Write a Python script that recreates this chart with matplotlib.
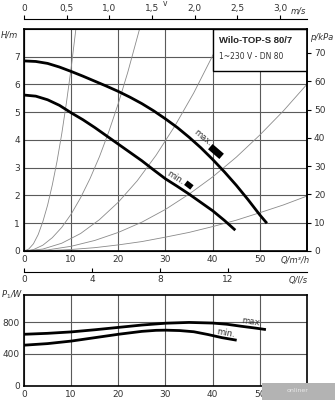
import numpy as np
import matplotlib
matplotlib.use('Agg')
import matplotlib.pyplot as plt
import matplotlib.patches as mpatches

plt.rcParams['font.family'] = ['DejaVu Sans']

# pump curves, H/m over Q/m3/h
q_max = [0, 2.5, 5, 7.5, 10, 12.5, 15, 17.5, 20, 22.5, 25, 27.5, 30, 32.5,
         35, 37.5, 40, 42.5, 45, 47.5, 50, 51.5]
h_max = [6.85, 6.83, 6.76, 6.63, 6.47, 6.3, 6.12, 5.94, 5.75, 5.54, 5.31, 5.05,
         4.76, 4.45, 4.1, 3.72, 3.3, 2.85, 2.37, 1.85, 1.3, 1.0]
q_min = [0, 2.5, 5, 7.5, 10, 12.5, 15, 17.5, 20, 22.5, 25, 27.5, 30, 32.5,
         35, 37.5, 40, 42.5, 44.8]
h_min = [5.62, 5.58, 5.45, 5.25, 4.98, 4.73, 4.45, 4.15, 3.85, 3.55, 3.25, 2.92,
         2.6, 2.33, 2.05, 1.75, 1.45, 1.1, 0.75]

# system curves (thin grey)
sys_q = [
    [0, 1, 2, 3, 4, 5, 6, 7, 8, 9, 10, 11],
    [0, 2, 4, 6, 8, 10, 12, 14, 16, 18, 20, 22, 24.5],
    [0, 4, 8, 12, 16, 20, 24, 28, 32, 36, 40, 42.6],
    [0, 5, 10, 15, 20, 25, 30, 35, 40, 45, 50, 55, 60],
    [0, 5, 10, 15, 20, 25, 30, 35, 40, 45, 50, 55, 60],
]
sys_h = [
    [0, 0.07, 0.26, 0.59, 1.06, 1.65, 2.38, 3.23, 4.22, 5.35, 6.6, 8.0],
    [0, 0.05, 0.21, 0.48, 0.85, 1.33, 1.92, 2.61, 3.4, 4.31, 5.32, 6.44, 8.0],
    [0, 0.07, 0.28, 0.63, 1.13, 1.76, 2.53, 3.45, 4.51, 5.7, 7.04, 7.98],
    [0, 0.04, 0.17, 0.38, 0.67, 1.04, 1.5, 2.05, 2.67, 3.38, 4.18, 5.05, 6.01],
    [0, 0.014, 0.055, 0.12, 0.22, 0.34, 0.5, 0.67, 0.88, 1.11, 1.38, 1.66, 1.98],
]

# power input P1/W
q_pmax = [0, 5, 10, 15, 20, 25, 30, 35, 40, 43, 46, 49, 51]
p_max = [648, 660, 678, 705, 735, 765, 788, 798, 790, 775, 750, 727, 710]
q_pmin = [0, 5, 10, 15, 20, 25, 28, 30, 33, 36, 39, 42, 44.8]
p_min = [510, 530, 562, 605, 648, 685, 698, 700, 695, 680, 645, 605, 576]

q_ticks = [0, 10, 20, 30, 40, 50]
h_ticks = [0, 1, 2, 3, 4, 5, 6, 7]
p_ticks = [0, 10, 20, 30, 40, 50, 60, 70]
v_ticks = [0, 0.5, 1.0, 1.5, 2.0, 2.5, 3.0]
v_labels = ['0', '0,5', '1,0', '1,5', '2,0', '2,5', '3,0']
ls_ticks = [0, 4, 8, 12]
w_ticks = [0, 400, 800]

W, H = 335, 400
TXT = '#333333'
GRID = '#5a5a5a'
FS = 6.5


def px(x, y):
    return x / W, 1 - y / H


fig = plt.figure(figsize=(3.35, 4.0), dpi=100)

# ---- main H(Q) chart ----
ax = fig.add_axes([24 / W, 1 - 251 / H, 283 / W, 222 / H])
ax.set_xlim(0, 60)
ax.set_ylim(0, 8)
ax.set_xticks(q_ticks)
ax.set_yticks(h_ticks)
ax.grid(True, color=GRID, lw=0.8)
ax.tick_params(length=0, labelsize=FS, labelcolor=TXT, pad=3)
for s in ax.spines.values():
    s.set_linewidth(1.2)

for qs, hs in zip(sys_q, sys_h):
    ax.plot(qs, hs, color='#8a8a8a', lw=0.6, zorder=2)
ax.plot(q_max, h_max, color='black', lw=2.0, zorder=4, solid_capstyle='butt')
ax.plot(q_min, h_min, color='black', lw=2.0, zorder=4, solid_capstyle='butt')

ax.text(37.9, 4.07, 'max.', rotation=-40, fontsize=6, color=TXT,
        ha='center', va='center', zorder=5)
ax.plot([39.5, 41.9], [3.76, 3.41], color='black', lw=5, solid_capstyle='butt', zorder=5)
ax.text(32.0, 2.65, 'min.', rotation=-32, fontsize=6, color=TXT,
        ha='center', va='center', zorder=5)
ax.plot([34.3, 35.6], [2.46, 2.29], color='black', lw=4, solid_capstyle='butt', zorder=5)

# type box
ax.add_patch(mpatches.Rectangle((40, 6.49), 20, 1.51, facecolor='white',
                                edgecolor='black', lw=1.0, zorder=6))
ax.text(41.3, 7.58, 'Wilo-TOP-S 80/7', fontsize=6.8, fontweight='bold',
        family=['Liberation Sans', 'DejaVu Sans'],
        color='#222222', ha='left', va='center', zorder=7)
ax.text(41.3, 7.0, '1~230 V - DN 80', fontsize=5.5, color=TXT,
        ha='left', va='center', zorder=7)

# p/kPa on the right
ax2 = ax.twinx()
ax2.set_ylim(0, 8 * 9.81)
ax2.set_yticks(p_ticks)
ax2.tick_params(length=3, width=0.8, labelsize=FS, labelcolor=TXT, pad=2)
ax2.spines['right'].set_linewidth(1.2)

# velocity on top
vfac = 3600 * np.pi * 0.04 ** 2
secv = ax.secondary_xaxis(1 + 10 / 222, functions=(lambda q: q / vfac, lambda v: v * vfac))
secv.set_xticks(v_ticks)
secv.set_xticklabels(v_labels)
secv.tick_params(length=3, width=0.8, direction='out', labelsize=FS, labelcolor=TXT, pad=1.5)
secv.spines['top'].set_linewidth(0.8)
fig.text(*px(165, 3.5), 'v', fontsize=5.5, color=TXT, ha='center', va='center')

# Q in l/s below
secl = ax.secondary_xaxis(-21 / 222, functions=(lambda q: q / 3.6, lambda l: l * 3.6))
secl.set_xticks(ls_ticks)
secl.tick_params(length=3, width=0.8, direction='in', labelsize=FS, labelcolor=TXT, pad=2)
secl.spines['bottom'].set_linewidth(0.8)

fig.text(*px(9, 35), 'H/m', fontsize=6, style='italic', color=TXT, ha='center', va='center')
fig.text(*px(322, 38), 'p/kPa', fontsize=6, style='italic', color=TXT, ha='center', va='center')
fig.text(*px(298, 11), 'm/s', fontsize=6, style='italic', color=TXT, ha='center', va='center')
fig.text(*px(295, 260), 'Q/m³/h', fontsize=6, style='italic', color=TXT, ha='center', va='center')
fig.text(*px(298, 280), 'Q/l/s', fontsize=6, style='italic', color=TXT, ha='center', va='center')

# ---- power chart ----
axp = fig.add_axes([24 / W, 1 - 385.5 / H, 283 / W, 90.5 / H])
axp.set_xlim(0, 60)
axp.set_ylim(0, 1145)
axp.set_xticks(q_ticks)
axp.set_yticks(w_ticks)
axp.grid(True, color=GRID, lw=0.8)
axp.tick_params(length=0, labelsize=FS, labelcolor=TXT, pad=3)
for s in axp.spines.values():
    s.set_linewidth(1.2)
axp.plot(q_pmax, p_max, color='black', lw=2.0, zorder=4)
axp.plot(q_pmin, p_min, color='black', lw=2.0, zorder=4)
axp.text(48.4, 809, 'max.', rotation=-8, fontsize=6, color=TXT, ha='center', va='center')
axp.text(42.8, 657, 'min.', rotation=-10, fontsize=6, color=TXT, ha='center', va='center')
fig.text(*px(12, 295), 'P$_1$/W', fontsize=6, style='italic', color=TXT, ha='center', va='center')

# watermark strip
fig.patches.append(mpatches.Rectangle(px(262, 400), 73 / W, 17 / H, transform=fig.transFigure,
                                      facecolor='#b3b3b3', edgecolor='none', zorder=10))
fig.text(*px(298, 391), 'onliner', fontsize=4.5, color='#e8e8e8', ha='center', va='center', zorder=11)

fig.savefig('out.png', dpi=100)
